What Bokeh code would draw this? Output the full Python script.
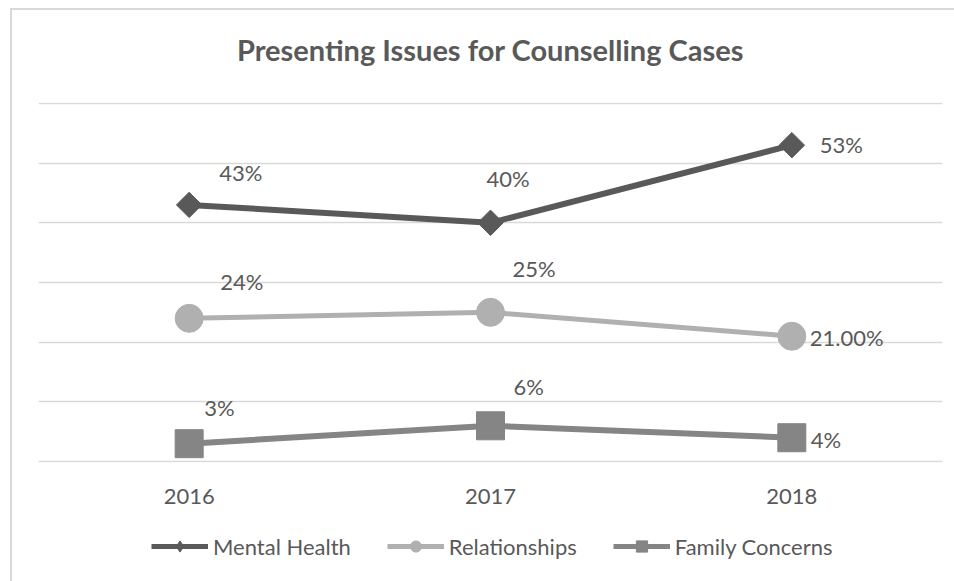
from bokeh.plotting import figure
from bokeh.models import (ColumnDataSource, FactorRange, Range1d, FixedTicker,
                          Legend, LegendItem, Column, Label)
from bokeh.core.properties import value
from bokeh.embed import file_html
from bokeh.resources import INLINE

# ---- data ----
years = ["2016", "2017", "2018"]
mental_health = [43, 40, 53]
relationships = [24, 25, 21]
family_concerns = [3, 6, 4]
mh_labels = ["43%", "40%", "53%"]
rel_labels = ["24%", "25%", "21.00%"]
fc_labels = ["3%", "6%", "4%"]
grid_ticks = [0, 10, 20, 30, 40, 50, 60]
title_text = "Presenting Issues for Counselling Cases"
series_names = ["Mental Health", "Relationships", "Family Concerns"]

# ---- styles ----
FONT = "Lato"
TXT = "#595959"
GRID = "#d9d9d9"
C_MH = "#595959"
C_REL = "#b0b0b0"
C_FC = "#858585"

# label offsets in screen pixels (style, not data)
mh_off = ([30, -4, 28], [-32, -44, -1])
rel_off = ([31, 22, 18], [-37, -44, 1])
fc_off = ([15, 23, 19], [-36, -39, 2])

# ---- title strip ----
tt = figure(width=942, height=92, x_range=Range1d(0, 942), y_range=Range1d(0, 92),
            output_backend="svg", toolbar_location=None, min_border=0,
            x_axis_type=None, y_axis_type=None)
tt.outline_line_color = None
tt.grid.visible = False
tt.add_layout(Label(x=471, y=53, text=title_text, text_align="center",
                    text_baseline="middle", text_font=FONT, text_font_style="bold",
                    text_font_size="29px", text_color=TXT))

# ---- main chart ----
p = figure(width=942, height=429, x_range=FactorRange(factors=years, range_padding=0),
           y_range=Range1d(-0.15, 60.15), output_backend="svg", toolbar_location=None,
           min_border_left=26, min_border_right=12, min_border_top=0, min_border_bottom=69)
p.outline_line_color = None
p.background_fill_color = "white"
p.border_fill_color = "white"

p.yaxis.visible = False
p.ygrid.ticker = FixedTicker(ticks=grid_ticks)
p.ygrid.grid_line_color = GRID
p.ygrid.grid_line_width = 1.5
p.xgrid.grid_line_color = None

ax = p.xaxis[0]
ax.axis_line_color = None
ax.major_tick_line_color = None
ax.minor_tick_line_color = None
ax.major_label_text_font = FONT
ax.major_label_text_font_size = "22px"
ax.major_label_text_color = TXT
ax.major_label_standoff = 20

def series(vals, labels, off, color, marker, size, lw, angle=0.0):
    src = ColumnDataSource(dict(x=years, y=vals, t=labels, xo=off[0], yo=off[1]))
    p.line("x", "y", source=src, line_color=color, line_width=lw)
    p.scatter("x", "y", source=src, marker=marker, size=size, angle=angle,
              fill_color=color, line_color=color)
    p.text("x", "y", text="t", source=src, x_offset="xo", y_offset="yo",
           text_align="left", text_baseline="middle", text_font=value(FONT),
           text_font_size="22px", text_color=TXT)

series(mental_health, mh_labels, mh_off, C_MH, "square", 18, 6, angle=0.785398)
series(relationships, rel_labels, rel_off, C_REL, "circle", 28, 5)
series(family_concerns, fc_labels, fc_off, C_FC, "square", 28, 6)

# ---- legend strip (separate small figure below the chart) ----
lg = figure(width=942, height=50, x_range=Range1d(0, 942), y_range=Range1d(0, 50),
            output_backend="svg", toolbar_location=None, min_border=0,
            x_axis_type=None, y_axis_type=None)
lg.outline_line_color = None
lg.grid.visible = False

def legend_renderers(color, marker, lw):
    # swatch renderers only (placed off-view); the legend draws their glyphs
    src = ColumnDataSource(dict(x=[-100, -90], y=[-100, -100]))
    ln = lg.line("x", "y", source=src, line_color=color, line_width=lw)
    sc = lg.scatter("x", "y", source=src, marker=marker, size=10,
                    fill_color=color, line_color=color)
    return [ln, sc]

items = [LegendItem(label=series_names[0], renderers=legend_renderers(C_MH, "diamond", 5)),
         LegendItem(label=series_names[1], renderers=legend_renderers(C_REL, "circle", 5)),
         LegendItem(label=series_names[2], renderers=legend_renderers(C_FC, "square", 5))]
legend = Legend(items=items, orientation="horizontal", location=(113, 21),
                glyph_width=57, glyph_height=28, label_standoff=5, spacing=36,
                padding=0, margin=0, border_line_color=None, background_fill_alpha=0,
                label_text_font=FONT, label_text_font_size="22px", label_text_color=TXT,
                label_height=28)
lg.add_layout(legend, "center")

layout = Column(children=[tt, p, lg], spacing=0, margin=(8, 0, 0, 10),
                styles={"border-left": "2px solid #d9d9d9", "border-top": "2px solid #d9d9d9"})

open("out.html", "w").write(file_html(layout, INLINE))
